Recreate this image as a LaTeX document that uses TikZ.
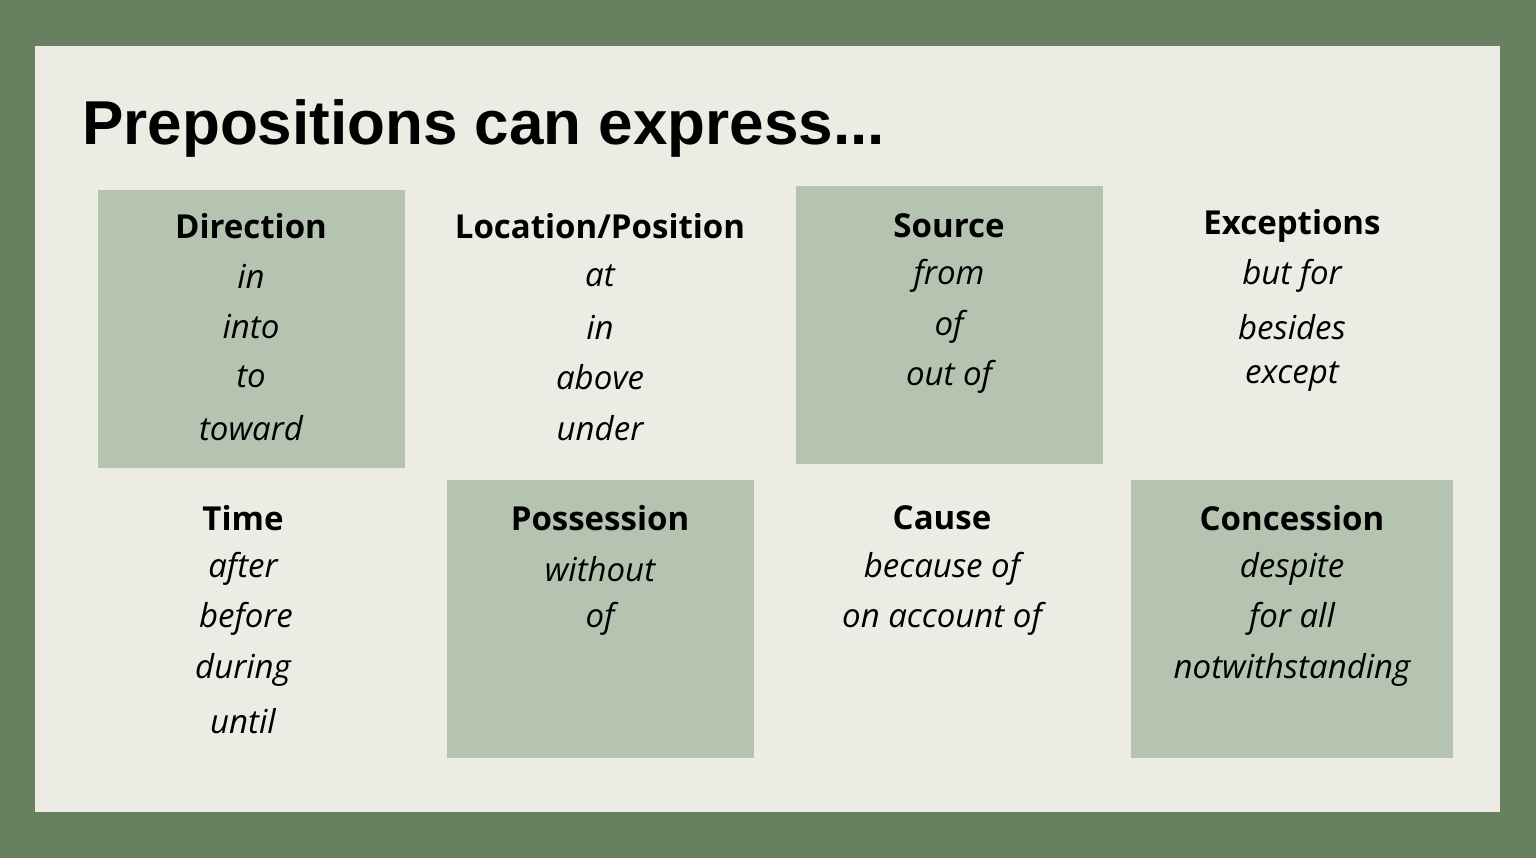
\documentclass[tikz,border=0pt]{standalone}
\usepackage{fontspec}
\setmainfont{Open Sans}
\newfontfamily\titlefont{Liberation Sans}
\definecolor{outer}{HTML}{67805F}
\definecolor{panel}{HTML}{EDECE4}
\definecolor{boxc}{HTML}{B5C4B1}
\begin{document}
\begin{tikzpicture}[x=1pt,y=-1pt,
  hd/.style={font=\fontsize{33}{36}\selectfont\bfseries, anchor=center, inner sep=0},
  it/.style={font=\fontsize{33}{36}\selectfont\itshape, anchor=center, inner sep=0},
  bx/.style={fill=boxc, draw=none}]
\fill[outer] (0,0) rectangle (1536,858);
\fill[panel] (35,46) rectangle (1500,812);
\useasboundingbox (0,0) rectangle (1536,858);
\fill[bx] (98,190) rectangle (405,468);
\fill[bx] (796,186) rectangle (1103,464);
\fill[bx] (447,480) rectangle (754,758);
\fill[bx] (1131,480) rectangle (1453,758);
\node[anchor=base west, inner sep=0, font=\fontsize{62}{70}\selectfont\titlefont\bfseries] (title) at (82,145) {Prepositions can express...};
% row 1
\node[hd] (h1) at (251,226) {Direction};
\node[it] (d1) at (251,276) {in};
\node[it] (d2) at (251,327) {into};
\node[it] (d3) at (251,377) {to};
\node[it] (d4) at (251,428) {toward};
\node[hd] (h2) at (600,226) {Location/Position};
\node[it] (l1) at (600,276) {at};
\node[it] (l2) at (600,327) {in};
\node[it] (l3) at (600,377) {above};
\node[it] (l4) at (600,428) {under};
\node[hd] (h3) at (949,226) {Source};
\node[it] (s1) at (949,276) {from};
\node[it] (s2) at (949,327) {of};
\node[it] (s3) at (949,377) {out of};
\node[hd] (h4) at (1292,226) {Exceptions};
\node[it] (e1) at (1292,276) {but for};
\node[it] (e2) at (1292,327) {besides};
\node[it] (e3) at (1292,377) {except};
% row 2
\node[hd] (h5) at (243,518) {Time};
\node[it] (t1) at (243,569) {after};
\node[it] (t2) at (246,619) {before};
\node[it] (t3) at (243,670) {during};
\node[it] (t4) at (243,721) {until};
\node[hd] (h6) at (600,518) {Possession};
\node[it] (p1) at (600,569) {without};
\node[it] (p2) at (600,619) {of};
\node[hd] (h7) at (942,518) {Cause};
\node[it] (c1) at (942,569) {because of};
\node[it] (c2) at (942,619) {on account of};
\node[hd] (h8) at (1292,518) {Concession};
\node[it] (n1) at (1292,569) {despite};
\node[it] (n2) at (1292,619) {for all};
\node[it] (n3) at (1292,670) {notwithstanding};
\end{tikzpicture}
\end{document}
